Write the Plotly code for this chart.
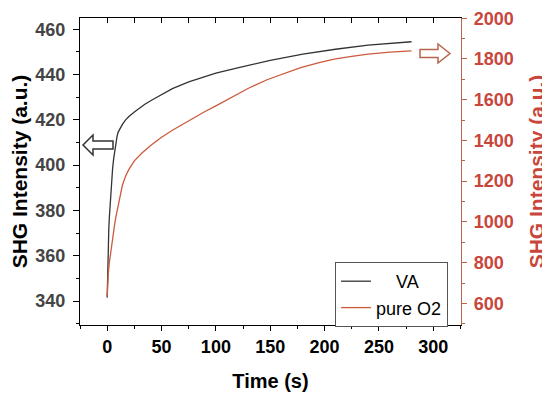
import plotly.graph_objects as go

# ---- data ----
time_va = [0, 0.5, 1, 1.5, 2, 3, 4, 5, 6, 7, 8, 9, 10, 12, 14, 17, 20, 25, 30, 35, 42,
           50, 60, 75, 90, 100, 120, 150, 180, 210, 240, 260, 280]
shg_va = [341.5, 356, 366, 372, 377, 386, 393, 398.5, 403, 407, 410, 412.5, 414.5, 416.5,
          418, 420, 421.5, 423.5, 425.3, 427, 429, 431.3, 433.8, 436.8, 439.2, 440.6, 443,
          446.3, 449, 451.2, 453, 453.8, 454.5]

time_o2 = [0, 0.5, 1, 2, 3, 4, 5, 6, 7, 8, 10, 12, 14, 17, 20, 25, 32, 40, 50, 60, 75,
           90, 100, 116, 130, 147, 160, 178, 195, 210, 225, 240, 260, 280]
shg_o2 = [632, 700, 745, 800, 845, 885, 925, 960, 993, 1023, 1080, 1135, 1180, 1225, 1258,
          1300, 1338, 1375, 1416, 1450, 1497, 1542, 1570, 1616, 1656, 1698, 1724, 1757, 1782,
          1800, 1813, 1824, 1833, 1840]

series_names = ["VA", "pure O2"]
x_title = "Time (s)"
y_title = "SHG Intensity (a.u.)"

# ---- styles ----
BLACK_LINE = "#333333"
RED = "#C8463C"
RED_LINE = "#CC5A3C"
RED_AXIS = "#B8654C"
FONT = "Liberation Sans, Arial, sans-serif"

# the page body adds an 8px offset, so the figure is drawn 8px smaller
OFF = 8
W, H = 550 - OFF, 398 - OFF
PL, PT, PR, PB = 80, 18, 461, 325          # plot area as seen in the window
L, T = PL - OFF, PT - OFF
R, B = W + OFF - PR, H + OFF - PB
PW, PH = PR - PL, PB - PT


def px(xp, yp):
    return ((xp - PL) / PW, (PB - yp) / PH)


def arrow_path(points):
    pts = [px(x, y) for x, y in points]
    return "M " + " L ".join(f"{x:.4f},{y:.4f}" for x, y in pts) + " Z"


fig = go.Figure()
fig.add_trace(go.Scatter(x=time_va, y=shg_va, mode="lines", name="\u00a0\u00a0\u00a0\u00a0" + series_names[0],
                         line=dict(color=BLACK_LINE, width=1.3), yaxis="y"))
fig.add_trace(go.Scatter(x=time_o2, y=shg_o2, mode="lines", name=series_names[1],
                         line=dict(color=RED_LINE, width=1.3), yaxis="y2"))
# invisible trace to host the top mirror axis ticks
fig.add_trace(go.Scatter(x=[None], y=[None], xaxis="x2", showlegend=False, hoverinfo="skip"))

fig.update_layout(
    width=W, height=H,
    margin=dict(l=L, r=R, t=T, b=B, autoexpand=False),
    paper_bgcolor="white", plot_bgcolor="white",
    showlegend=True,
    legend=dict(x=(448 - PL) / PW, y=(PB - 327) / PH, xanchor="right", yanchor="bottom",
                bordercolor="#555555", borderwidth=1, bgcolor="white",
                font=dict(family=FONT, size=18, color="black"),
                tracegroupgap=0, itemwidth=30),
    xaxis=dict(range=[-25, 325.5], tickvals=[0, 50, 100, 150, 200, 250, 300],
               showgrid=False, zeroline=False, showline=True, linecolor="black", linewidth=1.2,
               ticks="outside", ticklen=5, tickwidth=1.2, tickcolor="black",
               minor=dict(dtick=25, tick0=0, ticks="outside", ticklen=3, tickcolor="black"),
               tickfont=dict(family=FONT, size=18, color="black", weight="bold"),
               title=dict(text=x_title, font=dict(family=FONT, size=20, color="black", weight="bold"),
                          standoff=18)),
    xaxis2=dict(range=[-25, 325.5], overlaying="x", side="top", anchor="y",
                tickvals=[0, 25, 50, 75, 100, 125, 150, 175, 200, 225, 250, 275, 300, 325],
                showticklabels=False, showgrid=False, zeroline=False,
                showline=True, linecolor="black", linewidth=1.2,
                ticks="inside", ticklen=5, tickwidth=1.2, tickcolor="black"),
    yaxis=dict(range=[329.4, 465], tickvals=[340, 360, 380, 400, 420, 440, 460],
               showgrid=False, zeroline=False, showline=True, linecolor="black", linewidth=1.2,
               ticks="outside", ticklen=6, tickwidth=1.2, tickcolor="black",
               minor=dict(dtick=10, tick0=0, ticks="outside", ticklen=3, tickcolor="black"),
               tickfont=dict(family=FONT, size=18, color="#444444", weight="bold"),
               ticklabelstandoff=4,
               title=dict(text=y_title, font=dict(family=FONT, size=21, color="black", weight="bold"),
                          standoff=1)),
    yaxis2=dict(range=[494, 2001], tickvals=[600, 800, 1000, 1200, 1400, 1600, 1800, 2000],
                overlaying="y", side="right", anchor="x",
                showgrid=False, zeroline=False, showline=True, linecolor=RED_AXIS, linewidth=1.2,
                ticks="outside", ticklen=5, tickwidth=1.2, tickcolor=RED_AXIS,
                minor=dict(dtick=100, tick0=0, ticks="outside", ticklen=3, tickcolor=RED_AXIS),
                tickfont=dict(family=FONT, size=18, color=RED, weight="bold"),
                ticklabelstandoff=3,
                title=dict(text=y_title, font=dict(family=FONT, size=21, color=RED, weight="bold"),
                           standoff=16)),
    shapes=[
        dict(type="path", xref="paper", yref="paper",
             path=arrow_path([(83, 145), (93, 135), (93, 141), (113, 141), (113, 149),
                              (93, 149), (93, 155)]),
             fillcolor="white", line=dict(color="#333333", width=1.5)),
        dict(type="path", xref="paper", yref="paper",
             path=arrow_path([(450, 53.5), (438, 44), (438, 49.5), (420, 49.5), (420, 57.5),
                              (438, 57.5), (438, 63)]),
             fillcolor="white", line=dict(color=RED_AXIS, width=1.5)),
    ],
)

fig.write_html("out.html")
